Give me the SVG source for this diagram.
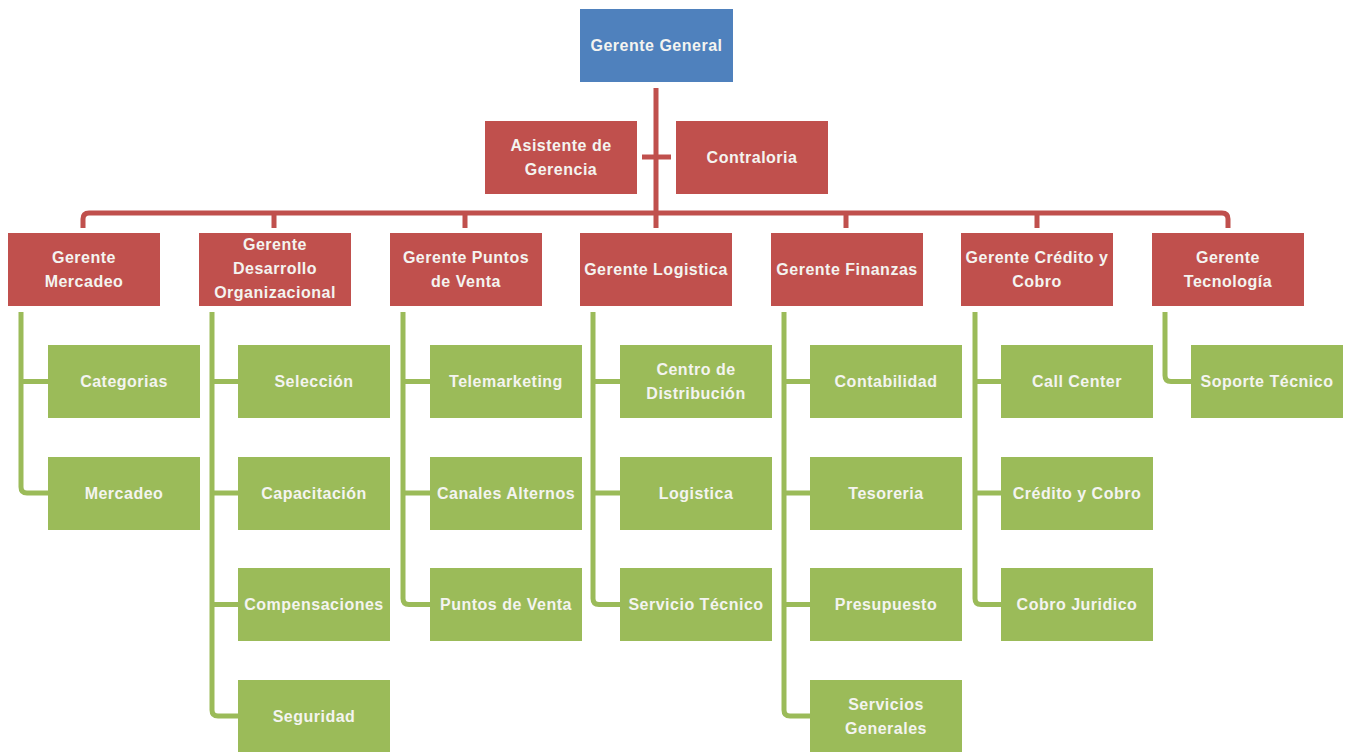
<svg xmlns="http://www.w3.org/2000/svg" width="1352" height="752" viewBox="0 0 1352 752">
<style>
.t{font-family:"Liberation Sans",Arial,sans-serif;font-weight:bold;font-size:16px;fill:#f4f4f0;text-anchor:middle;letter-spacing:0.5px}
.b{fill:#4f81bd}
.r{fill:#c0504d}
.g{fill:#9bbb59}
.lr{fill:none;stroke:#c0504d;stroke-width:5}
.lg{fill:none;stroke:#9bbb59;stroke-width:5}
</style>
<rect width="1352" height="752" fill="#ffffff"/>
<g id="connectors">
<path class="lr" d="M656,88 V228"/>
<path class="lr" d="M642,157 H671"/>
<path class="lr" d="M83,228 V219 Q83,213 89,213 H1222 Q1228,213 1228,219 V228"/>
<path class="lr" d="M274,213 V228 M465,213 V228 M846,213 V228 M1037,213 V228"/>
<path class="lg" d="M21,312 V487 Q21,493 27,493 H48 M21,381.5 H48"/>
<path class="lg" d="M212,312 V710 Q212,716 218,716 H238 M212,381.5 H238 M212,493 H238 M212,604.5 H238"/>
<path class="lg" d="M403,312 V598.5 Q403,604.5 409,604.5 H430 M403,381.5 H430 M403,493 H430"/>
<path class="lg" d="M593,312 V598.5 Q593,604.5 599,604.5 H620 M593,381.5 H620 M593,493 H620"/>
<path class="lg" d="M784,312 V710 Q784,716 790,716 H810 M784,381.5 H810 M784,493 H810 M784,604.5 H810"/>
<path class="lg" d="M975,312 V598.5 Q975,604.5 981,604.5 H1001 M975,381.5 H1001 M975,493 H1001"/>
<path class="lg" d="M1165,312 V375.5 Q1165,381.5 1171,381.5 H1191"/>
</g>
<g id="gerente-general"><rect class="b" x="580" y="9" width="153" height="73"/><text class="t" x="656.5" y="51">Gerente General</text></g>
<g id="asistente"><rect class="r" x="485" y="121" width="152" height="73"/><text class="t" x="561" y="151">Asistente de</text><text class="t" x="561" y="175">Gerencia</text></g>
<g id="contraloria"><rect class="r" x="676" y="121" width="152" height="73"/><text class="t" x="752" y="163">Contraloria</text></g>
<g id="g-mercadeo"><rect class="r" x="8" y="233" width="152" height="73"/><text class="t" x="84" y="263">Gerente</text><text class="t" x="84" y="287">Mercadeo</text></g>
<g id="g-desarrollo"><rect class="r" x="199" y="233" width="152" height="73"/><text class="t" x="275" y="250">Gerente</text><text class="t" x="275" y="274">Desarrollo</text><text class="t" x="275" y="298">Organizacional</text></g>
<g id="g-puntos"><rect class="r" x="390" y="233" width="152" height="73"/><text class="t" x="466" y="263">Gerente Puntos</text><text class="t" x="466" y="287">de Venta</text></g>
<g id="g-logistica"><rect class="r" x="580" y="233" width="152" height="73"/><text class="t" x="656" y="275">Gerente Logistica</text></g>
<g id="g-finanzas"><rect class="r" x="771" y="233" width="152" height="73"/><text class="t" x="847" y="275">Gerente Finanzas</text></g>
<g id="g-credito"><rect class="r" x="961" y="233" width="152" height="73"/><text class="t" x="1037" y="263">Gerente Crédito y</text><text class="t" x="1037" y="287">Cobro</text></g>
<g id="g-tecnologia"><rect class="r" x="1152" y="233" width="152" height="73"/><text class="t" x="1228" y="263">Gerente</text><text class="t" x="1228" y="287">Tecnología</text></g>
<g id="categorias"><rect class="g" x="48" y="345" width="152" height="73"/><text class="t" x="124" y="387">Categorias</text></g>
<g id="mercadeo"><rect class="g" x="48" y="457" width="152" height="73"/><text class="t" x="124" y="499">Mercadeo</text></g>
<g id="seleccion"><rect class="g" x="238" y="345" width="152" height="73"/><text class="t" x="314" y="387">Selección</text></g>
<g id="capacitacion"><rect class="g" x="238" y="457" width="152" height="73"/><text class="t" x="314" y="499">Capacitación</text></g>
<g id="compensaciones"><rect class="g" x="238" y="568" width="152" height="73"/><text class="t" x="314" y="610">Compensaciones</text></g>
<g id="seguridad"><rect class="g" x="238" y="680" width="152" height="73"/><text class="t" x="314" y="722">Seguridad</text></g>
<g id="telemarketing"><rect class="g" x="430" y="345" width="152" height="73"/><text class="t" x="506" y="387">Telemarketing</text></g>
<g id="canales"><rect class="g" x="430" y="457" width="152" height="73"/><text class="t" x="506" y="499">Canales Alternos</text></g>
<g id="puntos"><rect class="g" x="430" y="568" width="152" height="73"/><text class="t" x="506" y="610">Puntos de Venta</text></g>
<g id="centro"><rect class="g" x="620" y="345" width="152" height="73"/><text class="t" x="696" y="375">Centro de</text><text class="t" x="696" y="399">Distribución</text></g>
<g id="logistica"><rect class="g" x="620" y="457" width="152" height="73"/><text class="t" x="696" y="499">Logistica</text></g>
<g id="servicio"><rect class="g" x="620" y="568" width="152" height="73"/><text class="t" x="696" y="610">Servicio Técnico</text></g>
<g id="contabilidad"><rect class="g" x="810" y="345" width="152" height="73"/><text class="t" x="886" y="387">Contabilidad</text></g>
<g id="tesoreria"><rect class="g" x="810" y="457" width="152" height="73"/><text class="t" x="886" y="499">Tesoreria</text></g>
<g id="presupuesto"><rect class="g" x="810" y="568" width="152" height="73"/><text class="t" x="886" y="610">Presupuesto</text></g>
<g id="servicios"><rect class="g" x="810" y="680" width="152" height="73"/><text class="t" x="886" y="710">Servicios</text><text class="t" x="886" y="734">Generales</text></g>
<g id="callcenter"><rect class="g" x="1001" y="345" width="152" height="73"/><text class="t" x="1077" y="387">Call Center</text></g>
<g id="credito"><rect class="g" x="1001" y="457" width="152" height="73"/><text class="t" x="1077" y="499">Crédito y Cobro</text></g>
<g id="juridico"><rect class="g" x="1001" y="568" width="152" height="73"/><text class="t" x="1077" y="610">Cobro Juridico</text></g>
<g id="soporte"><rect class="g" x="1191" y="345" width="152" height="73"/><text class="t" x="1267" y="387">Soporte Técnico</text></g>
</svg>
